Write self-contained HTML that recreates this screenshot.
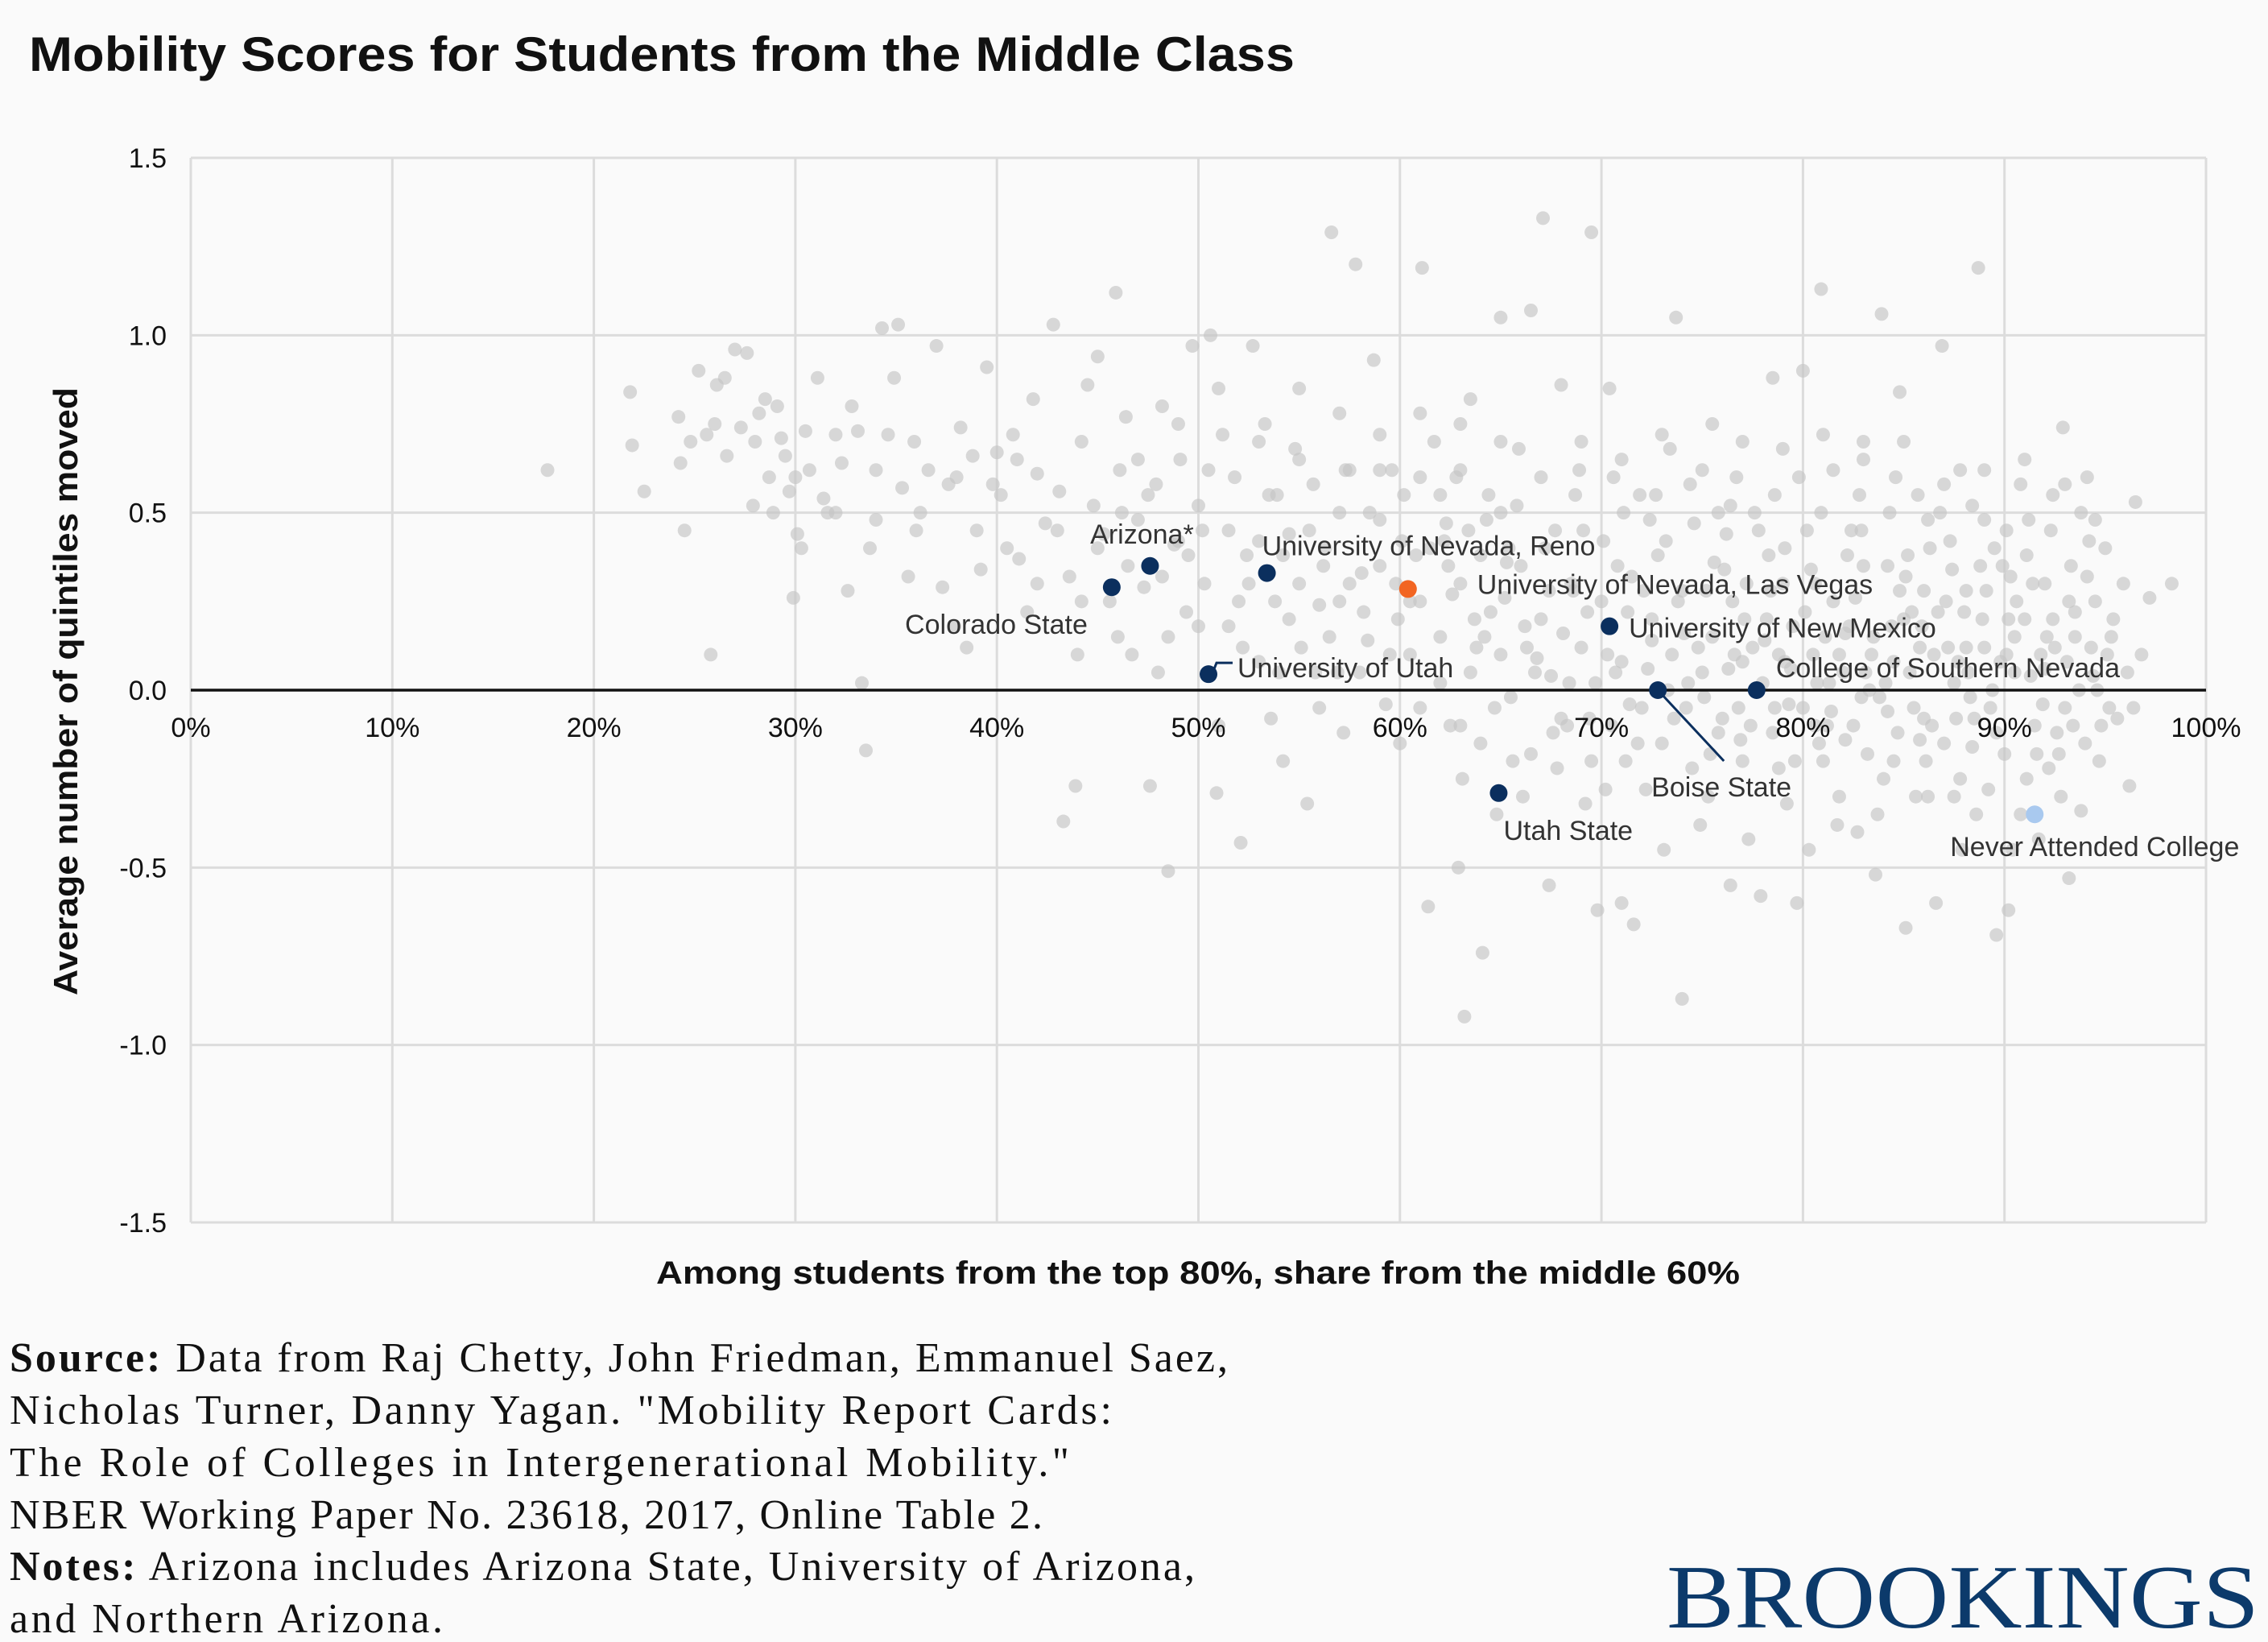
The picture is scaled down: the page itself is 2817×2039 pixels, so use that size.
<!DOCTYPE html>
<html><head><meta charset="utf-8"><style>
html,body{margin:0;padding:0;background:#fafafa;}
svg{display:block;}
.lab{font-family:"Liberation Sans Narrow","Liberation Sans",sans-serif;font-size:34px;fill:#333;}
.tick{font-family:"Liberation Sans",sans-serif;font-size:34px;fill:#111;}
</style></head><body>
<svg id="chart" width="2817" height="2039" viewBox="0 0 2817 2039" xmlns="http://www.w3.org/2000/svg">
<rect width="2817" height="2039" fill="#fafafa"/>
<text x="36" y="88" textLength="1572" lengthAdjust="spacingAndGlyphs" font-family="Liberation Sans, sans-serif" font-weight="bold" font-size="60" fill="#111">Mobility Scores for Students from the Middle Class</text>
<g id="grid"></g>
<g id="peers"></g>
<g id="zero"></g>
<g id="highlights"></g>
<g id="ticks"></g>
<text x="815" y="1594" textLength="1346" lengthAdjust="spacingAndGlyphs" font-family="Liberation Sans, sans-serif" font-weight="bold" font-size="40" fill="#111">Among students from the top 80%, share from the middle 60%</text>
<text transform="translate(96,1236) rotate(-90)" textLength="755" lengthAdjust="spacingAndGlyphs" font-family="Liberation Sans Narrow, Liberation Sans, sans-serif" font-weight="bold" font-size="42" fill="#111">Average number of quintiles moved</text>
<g font-family="Liberation Serif, serif" font-size="52" fill="#111" lengthAdjust="spacingAndGlyphs">
<text x="12" y="1703" textLength="1513"><tspan font-weight="bold">Source:</tspan> Data from Raj Chetty, John Friedman, Emmanuel Saez,</text>
<text x="12" y="1768" textLength="1369">Nicholas Turner, Danny Yagan. "Mobility Report Cards:</text>
<text x="12" y="1833" textLength="1316">The Role of Colleges in Intergenerational Mobility."</text>
<text x="12" y="1898" textLength="1283">NBER Working Paper No. 23618, 2017, Online Table 2.</text>
<text x="12" y="1962" textLength="1472"><tspan font-weight="bold">Notes:</tspan> Arizona includes Arizona State, University of Arizona,</text>
<text x="12" y="2027" textLength="538">and Northern Arizona.</text>
</g>
<text x="2070" y="2021" textLength="736" lengthAdjust="spacingAndGlyphs" font-family="Liberation Serif, serif" font-size="112" fill="#0c3a6b">BROOKINGS</text>
</svg>
<script>
const xTicks=[0,10,20,30,40,50,60,70,80,90,100];
const yTicks=[1.5,1.0,0.5,0.0,-0.5,-1.0,-1.5];
const peerData=[[17.7,0.62],[21.8,0.84],[21.9,0.69],[22.5,0.56],[24.2,0.77],[24.3,0.64],[24.5,0.45],[24.8,0.70],[25.2,0.90],[25.6,0.72],[25.8,0.10],[26.1,0.86],[26.5,0.88],[26.6,0.66],[27.0,0.96],[27.3,0.74],[27.6,0.95],[27.9,0.52],[28.2,0.78],[28.5,0.82],[28.7,0.60],[28.9,0.50],[29.1,0.80],[29.3,0.71],[29.5,0.66],[29.7,0.56],[29.9,0.26],[30.1,0.44],[30.3,0.40],[30.5,0.73],[30.7,0.62],[31.1,0.88],[31.4,0.54],[31.6,0.50],[32.0,0.72],[32.3,0.64],[32.6,0.28],[32.8,0.80],[33.1,0.73],[33.3,0.02],[33.5,-0.17],[33.7,0.40],[34.0,0.48],[34.3,1.02],[34.6,0.72],[34.9,0.88],[35.1,1.03],[35.3,0.57],[35.6,0.32],[35.9,0.70],[36.2,0.50],[36.6,0.62],[37.0,0.97],[37.3,0.29],[37.6,0.58],[37.9,0.18],[38.2,0.74],[38.5,0.12],[38.8,0.66],[39.2,0.34],[39.5,0.91],[39.8,0.58],[40.0,0.67],[40.2,0.55],[40.5,0.40],[40.8,0.72],[41.1,0.37],[41.5,0.22],[41.8,0.82],[42.0,0.61],[42.4,0.47],[42.8,1.03],[43.1,0.56],[43.3,-0.37],[43.6,0.32],[43.9,-0.27],[44.2,0.70],[44.5,0.86],[44.8,0.52],[45.0,0.94],[45.3,0.44],[45.6,0.25],[45.9,1.12],[46.1,0.62],[46.4,0.77],[46.7,0.10],[47.0,0.48],[47.3,0.29],[47.6,-0.27],[47.9,0.58],[48.2,0.80],[48.5,-0.51],[48.8,0.41],[49.1,0.65],[49.4,0.22],[49.7,0.97],[50.0,0.52],[50.3,0.30],[50.6,1.00],[50.9,-0.29],[51.2,0.72],[51.5,0.18],[51.8,0.60],[52.1,-0.43],[52.4,0.38],[52.7,0.97],[53.0,0.08],[53.3,0.75],[53.6,-0.08],[53.9,0.55],[54.2,-0.20],[54.5,0.44],[54.8,0.68],[55.1,0.12],[55.4,-0.32],[55.7,0.58],[56.0,0.24],[56.3,0.40],[56.6,1.29],[56.9,0.05],[57.2,-0.12],[57.5,0.62],[57.8,1.20],[58.1,0.33],[58.4,0.14],[58.7,0.93],[59.0,0.48],[59.3,-0.04],[59.6,0.62],[59.9,0.20],[60.2,0.55],[60.5,0.10],[60.8,0.38],[61.1,1.19],[61.4,-0.61],[61.7,0.70],[62.0,0.02],[62.3,0.47],[62.6,0.27],[62.9,-0.50],[63.2,-0.92],[63.5,0.82],[63.8,0.12],[64.1,-0.74],[64.4,0.55],[64.7,-0.05],[65.0,1.05],[65.3,0.36],[65.6,-0.20],[65.9,0.68],[66.2,0.18],[66.5,1.07],[66.8,0.09],[67.1,1.33],[67.4,-0.55],[67.7,0.45],[68.0,0.86],[68.3,-0.10],[68.6,0.28],[68.9,0.62],[69.2,-0.32],[69.5,1.29],[69.8,-0.62],[70.1,0.42],[70.4,0.85],[70.7,0.05],[71.0,-0.60],[71.3,0.22],[71.6,-0.66],[71.9,0.55],[72.2,-0.28],[72.5,0.14],[72.8,0.38],[73.1,-0.45],[73.4,0.68],[73.7,1.05],[74.0,-0.87],[74.3,0.02],[74.6,0.47],[74.9,-0.38],[75.2,0.28],[75.5,0.75],[75.8,-0.12],[76.1,0.34],[76.4,-0.55],[76.7,0.60],[77.0,0.08],[77.3,-0.42],[77.6,0.50],[77.9,-0.58],[78.2,0.20],[78.5,0.88],[78.8,-0.22],[79.1,0.40],[79.4,0.06],[79.7,-0.60],[80.0,0.90],[80.3,-0.45],[80.6,0.30],[80.9,1.13],[81.2,-0.10],[81.5,0.62],[81.8,-0.30],[82.1,0.16],[82.4,0.45],[82.7,-0.40],[83.0,0.70],[83.3,0.00],[83.6,-0.52],[83.9,1.06],[84.2,0.35],[84.5,-0.20],[84.8,0.84],[85.1,-0.67],[85.4,0.22],[85.7,0.55],[86.0,-0.08],[86.3,0.40],[86.6,-0.60],[86.9,0.97],[87.2,0.12],[87.5,-0.30],[87.8,0.62],[88.1,0.28],[88.4,-0.16],[88.7,1.19],[89.0,0.48],[89.3,-0.05],[89.6,-0.69],[89.9,0.35],[90.2,-0.62],[90.5,0.15],[90.8,0.58],[91.1,-0.25],[91.4,0.30],[91.7,-0.42],[92.0,0.06],[92.3,0.45],[92.6,-0.12],[92.9,0.74],[93.2,-0.53],[93.5,0.22],[93.8,-0.34],[94.1,0.60],[94.4,0.04],[94.7,-0.20],[95.0,0.40],[95.3,0.15],[95.6,-0.08],[95.9,0.30],[96.2,-0.27],[96.5,0.53],[96.8,0.10],[97.2,0.26],[98.3,0.30],
[62,0.15],[62.5,-0.1],[63,0.3],[63.5,0.05],[64,-0.15],[64.5,0.22],[65,0.1],[65.5,-0.02],[66,0.35],[66.5,-0.18],[67,0.2],[67.5,0.04],[68,-0.08],[68.5,0.3],[69,0.12],[69.5,-0.2],[70,0.25],[70.5,-0.1],[71,0.08],[71.5,0.32],[72,-0.05],[72.5,0.2],[73,-0.15],[73.5,0.1],[74,0.28],[74.5,-0.22],[75,0.05],[75.5,0.15],[76,-0.08],[76.5,0.25],[77,-0.2],[77.5,0.12],[78,0.02],[78.5,-0.12],[79,0.3],[79.5,0.18],[80,-0.05],[80.5,0.1],[81,-0.2],[81.5,0.25],[82,0.05],[82.5,-0.1],[83,0.35],[83.5,0.15],[84,-0.25],[84.5,0.08],[85,0.2],[85.5,-0.05],[86,0.28],[86.5,0.1],[87,-0.15],[87.5,0.02],[88,0.22],[88.5,-0.08],[89,0.12],[89.5,0.4],[90,-0.18],[90.5,0.05],[91,0.2],[91.5,-0.1],[92,0.3],[92.5,0.12],[93,-0.05],[93.5,0.15],[94,-0.15],[94.5,0.25],
[62.2,0.42],[63.1,-0.25],[64.3,0.48],[65.2,0.26],[66.1,-0.3],[67.2,0.4],[68.1,0.16],[69.1,0.45],[70.2,-0.28],[71.1,0.5],[72.3,0.06],[73.2,0.42],[74.2,-0.05],[75.3,-0.3],[76.2,0.44],[77.2,0.3],[78.3,0.38],[79.2,-0.32],[80.2,0.45],[81.3,0.02],[82.2,0.38],[83.2,-0.18],[84.3,0.5],[85.2,0.38],[86.2,-0.3],[87.3,0.42],[88.2,0.05],[89.2,-0.28],[90.3,0.32],[91.2,0.48],[92.2,-0.22],[93.3,0.35],[94.2,0.42],[95.2,-0.05],
[62.8,0.6],[63.7,0.2],[64.8,-0.35],[65.8,0.52],[66.7,0.05],[67.8,-0.22],[68.7,0.55],[69.7,0.02],[70.8,0.35],[71.8,-0.15],[72.7,0.55],[73.8,0.25],[74.8,0.12],[75.8,0.5],[76.8,-0.05],[77.8,0.45],[78.8,0.1],[79.8,0.6],[80.8,-0.15],[81.8,0.1],[82.8,0.55],[83.8,-0.02],[84.8,0.28],[85.8,0.12],[86.8,0.5],[87.8,-0.25],[88.8,0.35],[89.8,0.08],[90.8,-0.35],[91.8,0.1],[92.8,-0.3],[93.8,0.5],[94.8,-0.1],
[60.5,0.25],[61,-0.05],[61.5,0.4],[59.5,0.1],[58.5,0.5],[57.5,0.3],[56.5,0.15],[55.5,0.45],[54.5,0.2],[53.5,0.55],[52.5,0.3],[51.5,0.45],[50.5,0.62],[49.5,0.38],[48.5,0.15],[47.5,0.55],[46.5,0.35],[55,0.65],[57,0.5],[59,0.72],[61,0.6],[63,0.75],[65,0.7],[67,0.6],[69,0.7],[71,0.65],[73,0.72],[75,0.62],[77,0.7],[79,0.68],[81,0.72],[83,0.65],[85,0.7],[87,0.58],[89,0.62],[91,0.65],[93,0.58],
[75.1,-0.02],[76.3,0.06],[77.4,-0.1],[78.1,0.14],[79.3,-0.04],[80.1,0.22],[80.7,0.02],[81.4,-0.06],[82.3,0.18],[82.9,-0.02],[83.4,0.1],[84.1,0.02],[84.7,-0.12],[85.3,0.05],[85.9,0.18],[86.4,-0.1],[87.1,0.25],[87.7,0.08],[88.3,-0.02],[88.9,0.2],[89.4,0.0],[90.1,0.1],[90.6,0.25],[91.3,0.04],[91.9,-0.04],[92.4,0.2],[93.1,0.08],[93.7,0.0],[94.3,0.12],[95.4,0.2],[96.1,0.05],[86.1,-0.2],[88.6,-0.35],[85.6,-0.3],[83.7,-0.35],[81.7,-0.38],[79.6,-0.2],[87.9,-0.45],[90.4,-0.45],[92.7,-0.18],
[44,0.1],[46,0.15],[48,0.05],[49,0.42],[50,0.18],[51,-0.1],[52,0.25],[53,0.42],[54,0.05],[55,0.3],[56,-0.05],[57,0.25],[58,0.05],[59,0.35],[60,-0.15],[61,0.25],[62,0.55],[63,-0.1],[64,0.38],[45,0.4],[47,0.65],[49,0.75],[51,0.85],[53,0.7],[55,0.85],[57,0.78],[59,0.62],[61,0.78],[63,0.62],[65,0.5],[42,0.3],[43,0.45],[41,0.65],[39,0.45],[38,0.6],[36,0.45],[34,0.62],[32,0.5],[30,0.6],[28,0.7],[26,0.75],
[66.3,0.12],[67.4,0.28],[68.4,0.02],[69.3,0.22],[70.3,0.1],[71.4,-0.04],[72.1,0.28],[73.3,0.0],[74.1,0.16],[75.6,0.36],[76.6,0.1],[77.1,0.2],[78.4,0.28],[79.1,0.08],[80.4,0.34],[81.1,0.15],[82.6,0.26],[83.1,0.05],[84.4,0.18],[85.1,0.32],[86.7,0.22],[87.4,0.34],[88.1,0.12],[89.1,0.28],[90.2,0.2],[91.1,0.38],[92.1,0.15],[93.2,0.25],[94.1,0.32],[95.1,0.1],
[67.6,-0.12],[69.4,-0.08],[71.2,-0.2],[73.6,-0.08],[75.4,-0.18],[76.9,-0.14],[78.6,-0.05],[80.6,-0.1],[82.1,-0.14],[84.2,-0.06],[85.8,-0.14],[87.6,-0.08],[89.6,-0.12],[91.6,-0.18],[93.4,-0.1],[94.6,0.0],[96.4,-0.05],
[70.6,0.6],[72.4,0.48],[74.4,0.58],[76.4,0.52],[78.6,0.55],[80.9,0.5],[82.9,0.45],[84.6,0.6],[86.2,0.48],[88.4,0.52],[90.1,0.45],[92.4,0.55],[94.5,0.48],[58.2,0.22],[56.2,0.35],[54.2,0.38],[52.2,0.12],[50.2,0.45],[48.2,0.32],[46.2,0.5],[44.2,0.25],[57.3,0.62],[60.1,0.42],[62.4,0.35],[64.2,0.15],[65.4,0.4],[63.4,0.45],[59.8,0.3],[55.8,0.05],[53.8,0.25]];
const hlNames=["Colorado State","Arizona*","University of Nevada, Reno","University of Nevada, Las Vegas","University of Utah","University of New Mexico","Boise State","College of Southern Nevada","Utah State","Never Attended College"];
const hlShare=[45.7,47.6,53.4,60.4,50.5,70.4,72.8,77.7,64.9,91.5];
const hlScore=[0.29,0.35,0.33,0.285,0.045,0.18,0.0,0.0,-0.29,-0.35];
const hlColors=["#0b2f5e","#0b2f5e","#0b2f5e","#f26522","#0b2f5e","#0b2f5e","#0b2f5e","#0b2f5e","#0b2f5e","#a9c9ef"];
const hlLabelPos=[[-30,46,"end"],[-10,-40,"middle"],[-6,-34,"start"],[86,-6,"start"],[36,-8,"start"],[24,2,"start"],[-8,120,"start"],[24,-28,"start"],[6,46,"start"],[-105,40,"start"]];

const NS="http://www.w3.org/2000/svg";
const X0=237,X1=2740,YT=196,YB=1518;
function sx(v){return X0+(v/100)*(X1-X0);}
function sy(v){return YT+(1.5-v)/3*(YB-YT);}
function mk(tag,attrs,parent){const e=document.createElementNS(NS,tag);for(const k in attrs)e.setAttribute(k,attrs[k]);parent.appendChild(e);return e;}

const grid=document.getElementById('grid');
xTicks.forEach(t=>{const l=mk('line',{x1:sx(t),x2:sx(t),y1:YT,y2:YB,stroke:'#dcdcdc','stroke-width':3},grid);

});
yTicks.forEach(t=>{const l=mk('line',{x1:X0,x2:X1,y1:sy(t),y2:sy(t),stroke:'#dcdcdc','stroke-width':3},grid);

});

const peers=document.getElementById('peers');
peerData.forEach(p=>{const c=mk('circle',{cx:sx(p[0]),cy:sy(p[1]),r:8.5,fill:'#c4c4c4','fill-opacity':0.65},peers);

});

const z=mk('line',{x1:X0,x2:X1,y1:sy(0),y2:sy(0),stroke:'#111','stroke-width':3.5},document.getElementById('zero'));



const ticks=document.getElementById('ticks');
yTicks.forEach(t=>{const e=mk('text',{x:207,y:sy(t)+12,'text-anchor':'end','class':'tick'},ticks);e.textContent=t.toFixed(1);

});
xTicks.forEach(t=>{const e=mk('text',{x:sx(t),y:sy(0)+58,'text-anchor':'middle','class':'tick'},ticks);e.textContent=t+'%';

});

const hl=document.getElementById('highlights');
hlNames.forEach((n,i)=>{const cx=sx(hlShare[i]),cy=sy(hlScore[i]);
if(i===4){const l=mk('polyline',{points:`${cx+6},${cy-4} ${cx+10},${cy-14} ${cx+30},${cy-14}`,fill:'none',stroke:'#0b2f5e','stroke-width':3},hl);

}
if(i===6){const l=mk('line',{x1:cx,y1:cy,x2:cx+82,y2:cy+88,stroke:'#0b2f5e','stroke-width':3},hl);

}
const c=mk('circle',{cx:cx,cy:cy,r:11,fill:hlColors[i]},hl);


const p=hlLabelPos[i];
const t=mk('text',{x:cx+p[0],y:cy+p[1]+12,'text-anchor':p[2],'class':'lab'},hl);t.textContent=n;

});
</script>
</body></html>
